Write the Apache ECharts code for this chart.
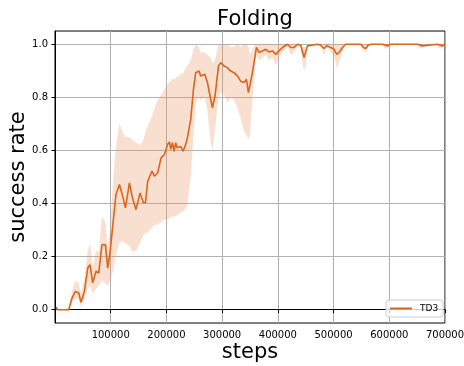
<!DOCTYPE html>
<html>
<head>
<meta charset="utf-8">
<script src="https://cdn.jsdelivr.net/npm/echarts@6/dist/echarts.min.js"></script>
<style>
html,body{margin:0;padding:0;background:#fff;}
#chart{width:464px;height:366px;}
</style>
</head>
<body>
<div id="chart"></div>
<script>
const titleText = 'Folding';
const xName = 'steps';
const yName = 'success rate';
const seriesName = 'TD3';

const steps = [2000, 4800, 24600, 30500, 36600, 42500, 46700, 52800, 58700, 62800,
  67700, 73600, 78500, 84400, 90500, 94600, 98700, 104800, 109500, 115600,
  121500, 126400, 133600, 138200, 145400, 152600, 158700, 162300, 166400, 174100,
  178500, 184400, 190300, 196400,
  202300, 205500, 207700, 210800, 213600, 216700, 219000, 221500, 225600, 229800, 234600, 237700,
  243600, 248500, 252600, 258500, 261600, 268800, 273600, 279500, 282600,
  287200, 293400, 297500, 303400, 309500, 315400, 321400, 327500, 333400, 339300,
  343600, 347200, 350100, 354400, 359100, 361600, 366200, 372300, 378300, 384200,
  390300, 396200, 402100, 408200, 417200, 423200, 429100, 435200, 441100, 444100,
  447000, 450100, 453100, 459000, 471100, 477000, 482900, 487800, 494900, 500900,
  505700, 509900, 516000, 521900, 548800, 553700, 557800, 561900, 566800, 587800,
  590700, 597800, 601400, 650600, 653500, 659600, 662500, 686500, 688300, 695500,
  698400, 700000];

const meanRate = [0.01, 0.0, 0.0, 0.044, 0.069, 0.063, 0.028, 0.069, 0.157, 0.170,
  0.101, 0.145, 0.138, 0.245, 0.245, 0.157, 0.214, 0.340, 0.434, 0.472,
  0.428, 0.384, 0.478, 0.428, 0.377, 0.440, 0.403, 0.403, 0.484, 0.522,
  0.503, 0.516, 0.572, 0.585,
  0.623, 0.632, 0.604, 0.629, 0.597, 0.629, 0.610, 0.604, 0.615, 0.597, 0.623, 0.648,
  0.717, 0.830, 0.893, 0.899, 0.880, 0.887, 0.856, 0.792, 0.761,
  0.805, 0.918, 0.931, 0.918, 0.912, 0.899, 0.893, 0.880, 0.861, 0.856,
  0.868, 0.818, 0.811, 0.893, 0.956, 0.988, 0.969, 0.975, 0.981, 0.971,
  0.975, 0.962, 0.975, 0.988, 1.0, 0.988, 0.988, 1.0, 0.996, 0.973,
  0.950, 0.956, 0.994, 0.996, 1.0, 0.996, 0.984, 0.994, 0.988, 0.981,
  0.962, 0.969, 0.988, 1.0, 1.0, 0.988, 0.984, 0.996, 1.0, 1.0,
  0.994, 0.994, 1.0, 1.0, 0.994, 0.994, 1.0, 1.0, 0.994, 0.994,
  1.0, 1.0];

const lowerRate = [0.0, 0.0, 0.0, 0.03, 0.04, 0.04, 0.01, 0.04, 0.08, 0.09,
  0.06, 0.08, 0.09, 0.11, 0.10, 0.09, 0.11, 0.15, 0.21, 0.25,
  0.26, 0.25, 0.24, 0.22, 0.22, 0.25, 0.28, 0.29, 0.29, 0.31,
  0.32, 0.32, 0.33, 0.34,
  0.34, 0.345, 0.35, 0.35, 0.35, 0.355, 0.355, 0.36, 0.365, 0.37, 0.38, 0.40,
  0.50, 0.66, 0.78, 0.80, 0.79, 0.80, 0.75, 0.63, 0.60,
  0.68, 0.80, 0.82, 0.81, 0.78, 0.80, 0.79, 0.76, 0.72, 0.67,
  0.66, 0.64, 0.66, 0.80, 0.91, 0.96, 0.94, 0.95, 0.96, 0.94,
  0.95, 0.92, 0.95, 0.97, 0.99, 0.96, 0.97, 0.99, 0.99, 0.93,
  0.90, 0.92, 0.99, 0.99, 1.0, 0.99, 0.96, 0.99, 0.97, 0.96,
  0.91, 0.93, 0.97, 1.0, 1.0, 0.975, 0.97, 0.99, 1.0, 1.0,
  0.985, 0.985, 1.0, 1.0, 0.985, 0.985, 1.0, 1.0, 0.985, 0.985,
  1.0, 1.0];

const upperRate = [0.02, 0.0, 0.0, 0.07, 0.11, 0.10, 0.06, 0.12, 0.22, 0.25,
  0.16, 0.22, 0.22, 0.35, 0.33, 0.24, 0.30, 0.50, 0.62, 0.70,
  0.67, 0.65, 0.65, 0.64, 0.63, 0.62, 0.64, 0.67, 0.69, 0.73,
  0.76, 0.79, 0.81, 0.83,
  0.85, 0.86, 0.86, 0.87, 0.87, 0.87, 0.88, 0.88, 0.89, 0.89, 0.91, 0.92,
  0.94, 0.98, 1.0, 0.99, 0.97, 0.97, 0.96, 0.95, 0.93,
  0.94, 1.0, 1.0, 1.0, 1.0, 0.99, 0.99, 1.0, 0.99, 1.0,
  1.0, 0.99, 0.96, 0.98, 1.0, 1.0, 1.0, 1.0, 1.0, 1.0,
  1.0, 1.0, 1.0, 1.0, 1.0, 1.0, 1.0, 1.0, 1.0, 0.99,
  0.99, 0.99, 1.0, 1.0, 1.0, 1.0, 1.0, 1.0, 1.0, 1.0,
  1.0, 1.0, 1.0, 1.0, 1.0, 1.0, 1.0, 1.0, 1.0, 1.0,
  1.0, 1.0, 1.0, 1.0, 1.0, 1.0, 1.0, 1.0, 1.0, 1.0,
  1.0, 1.0];

const lineColor = '#d9661c';
const bandColor = 'rgba(235,150,100,0.3)';
const FONT = 'DejaVu Sans';

const meanData = steps.map((s, i) => [s, meanRate[i]]);
const bandData = steps.map((s, i) => [s, lowerRate[i], upperRate[i]]);

function renderBand(params, api) {
  if (params.dataIndex !== 0) return null;
  const pts = [];
  for (let i = 0; i < bandData.length; i++) pts.push(api.coord([bandData[i][0], bandData[i][2]]));
  for (let i = bandData.length - 1; i >= 0; i--) pts.push(api.coord([bandData[i][0], bandData[i][1]]));
  return {
    type: 'polygon',
    shape: {points: pts},
    style: {fill: bandColor, stroke: null}
  };
}

const chart = echarts.init(document.getElementById('chart'), null, {renderer: 'canvas'});
chart.setOption({
  animation: false,
  backgroundColor: '#fff',
  title: {
    text: titleText, left: 250, top: 4, textAlign: 'center',
    textStyle: {fontFamily: FONT, fontSize: 21, fontWeight: 'normal', color: '#000'}
  },
  grid: {left: 55, right: 19, top: 31, bottom: 43, outerBoundsMode: 'none', containLabel: false,
    show: true, borderColor: '#000', borderWidth: 1, backgroundColor: 'transparent'},
  legend: {
    data: [seriesName], left: 386, top: 300, orient: 'vertical',
    icon: 'rect', padding: [4, 5, 4, 4], itemWidth: 22, itemHeight: 2, itemGap: 4,
    backgroundColor: 'rgba(255,255,255,0.8)', borderColor: '#cccccc', borderWidth: 1, borderRadius: 3,
    textStyle: {fontFamily: FONT, fontSize: 9, color: '#000', padding: [0, 0, 0, 3]}
  },
  xAxis: {
    type: 'value', min: 0, max: 700000,
    name: xName, nameLocation: 'middle', nameGap: 19, nameMoveOverlap: false,
    nameTextStyle: {fontFamily: FONT, fontSize: 21, color: '#000', verticalAlign: 'top'},
    axisLine: {show: true, lineStyle: {color: '#000', width: 1}},
    axisTick: {show: true, length: 3.5, inside: false, lineStyle: {color: '#000'}},
    axisLabel: {showMinLabel: false, fontFamily: FONT, fontSize: 10, color: '#000', margin: 7,
      formatter: v => String(Math.round(v))},
    splitLine: {show: true, lineStyle: {color: '#b0b0b0', width: 1}}
  },
  yAxis: {
    type: 'value', min: -0.05, max: 1.05,
    name: yName, nameLocation: 'middle', nameGap: 26, nameRotate: 90, nameMoveOverlap: false,
    nameTextStyle: {fontFamily: FONT, fontSize: 21, color: '#000'},
    axisLine: {show: true, lineStyle: {color: '#000', width: 1}},
    axisTick: {show: true, length: 3.5, lineStyle: {color: '#000'}},
    axisLabel: {showMinLabel: false, showMaxLabel: false, fontFamily: FONT, fontSize: 10, color: '#000', margin: 7,
      formatter: v => v.toFixed(1)},
    splitLine: {show: true, showMinLine: false, showMaxLine: false, lineStyle: {color: '#b0b0b0', width: 1}}
  },
  series: [
    {
      name: 'band', type: 'custom', data: bandData, renderItem: renderBand, silent: true, z: 1,
      encode: {x: 0, y: [1, 2]}, clip: true
    },
    {
      name: seriesName, type: 'line', data: meanData, symbol: 'none',
      lineStyle: {color: lineColor, width: 1.6}, itemStyle: {color: lineColor}, z: 3
    }
  ]
});
</script>
</body>
</html>
